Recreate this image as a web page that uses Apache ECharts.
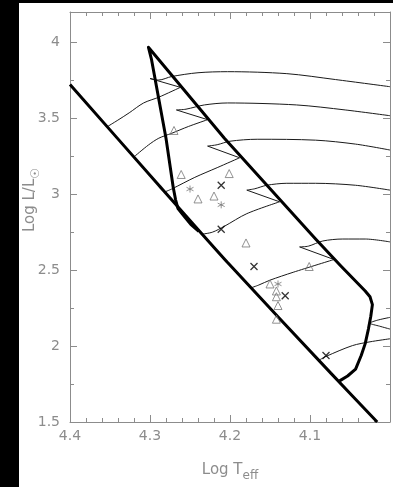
<!DOCTYPE html>
<html><head><meta charset="utf-8">
<script src="https://cdn.jsdelivr.net/npm/echarts@6.0.0/dist/echarts.min.js"></script>
<style>
html,body{margin:0;padding:0;background:#fff;overflow:hidden;}
#c{position:absolute;left:0;top:0;width:393px;height:487px;}
#bl{position:absolute;left:0;top:0;width:19px;height:487px;background:#000;}
#bt{position:absolute;left:0;top:0;width:393px;height:3px;background:#000;}
</style></head><body>
<div id="c"></div><div id="bl"></div><div id="bt"></div>
<script>
// ---- axis ranges / ticks ----
const xRange = [4.0, 4.4];
const yRange = [1.5, 4.2];
const xMajor = 0.1, yMajor = 0.5, yMinor = 0.25;

// ---- thick lines ----
const zams = [[4.400,3.723],[4.289,3.059],[4.203,2.550],[4.074,1.822],[4.016,1.500]];
const boundary = [[4.239,2.756],[4.249,2.802],[4.257,2.853],[4.265,2.905],[4.268,2.963],[4.271,3.046],
  [4.280,3.369],[4.298,3.884],[4.302,3.968],[4.207,3.369],[4.093,2.705],[4.062,2.531],[4.031,2.363],
  [4.025,2.325],[4.022,2.273],[4.024,2.196],[4.027,2.112],[4.031,2.016],[4.036,1.938],[4.043,1.848],
  [4.053,1.803],[4.063,1.771]];

// ---- evolutionary tracks (thin) ----
const track1 = [[4.353,3.446],[4.341,3.485],[4.326,3.536],[4.308,3.601],[4.289,3.639],[4.262,3.704],
  [4.300,3.762],[4.289,3.752],[4.273,3.775],[4.240,3.800],[4.203,3.807],[4.129,3.794],[4.068,3.755],[4.000,3.708]];
const track2 = [[4.320,3.246],[4.302,3.324],[4.289,3.369],[4.273,3.401],[4.252,3.446],[4.228,3.491],
  [4.267,3.555],[4.255,3.560],[4.232,3.588],[4.203,3.601],[4.117,3.588],[4.056,3.555],[4.000,3.517]];
const track3 = [[4.282,3.014],[4.273,3.034],[4.244,3.111],[4.216,3.175],[4.188,3.240],
  [4.228,3.317],[4.216,3.326],[4.200,3.349],[4.166,3.362],[4.093,3.356],[4.043,3.330],[4.000,3.291]];
const track4 = [[4.235,2.737],[4.222,2.750],[4.207,2.789],[4.179,2.872],[4.138,2.950],
  [4.179,3.027],[4.169,3.036],[4.154,3.059],[4.129,3.072],[4.093,3.072],[4.043,3.059],[4.000,3.027]];
const track5 = [[4.174,2.383],[4.164,2.402],[4.150,2.434],[4.121,2.486],[4.070,2.570],
  [4.113,2.653],[4.102,2.658],[4.084,2.692],[4.059,2.705],[4.031,2.705],[4.000,2.686]];
const track6 = [[4.000,2.112],[4.013,2.131],[4.025,2.151],[4.016,2.170],[4.000,2.189]];
const track7 = [[4.089,1.906],[4.080,1.932],[4.047,2.003],[4.025,2.028],[4.000,2.048]];
const tracks = [track1, track2, track3, track4, track5, track6, track7];
// index of the main-sequence end point of each track (hook start), -1 = none
const msEnd = [5, 5, 4, 4, 4, -1, -1];

// ---- observed stars ----
const triangles = [[4.270,3.420],[4.261,3.130],[4.201,3.136],[4.240,2.969],[4.220,2.988],[4.180,2.679],
  [4.150,2.409],[4.101,2.524],[4.142,2.363],[4.142,2.325],[4.140,2.267],[4.142,2.177]];
const asterisks = [[4.250,3.034],[4.211,2.930],[4.140,2.409]];
const crosses = [[4.211,3.059],[4.211,2.769],[4.170,2.524],[4.131,2.331],[4.080,1.938]];

const AX = '#8c8c8c';
const FONT = 'DejaVu Sans';
const isMult = (v, s) => Math.abs(v / s - Math.round(v / s)) < 1e-6;

function xAx(pos, labels) {
  return {
    type: 'value', position: pos, inverse: true, min: xRange[0], max: xRange[1], interval: xMajor,
    axisLine: { show: true, onZero: false, lineStyle: { color: AX, width: 1 } },
    axisTick: { show: true, inside: true, length: 7, lineStyle: { color: AX } },
    minorTick: { show: true, splitNumber: 5, length: 4, lineStyle: { color: AX } },
    splitLine: { show: false }, minorSplitLine: { show: false },
    axisLabel: labels ? { show: true, color: AX, fontSize: 14, fontFamily: FONT, margin: 7,
      formatter: v => (Math.abs(v - 4.0) < 1e-6 ? '' : v.toFixed(1)) } : { show: false }
  };
}
function yAx(pos, interval, len, labels, line) {
  return {
    type: 'value', position: pos, min: yRange[0], max: yRange[1], interval: interval,
    axisLine: { show: line, onZero: false, lineStyle: { color: AX, width: 1 } },
    axisTick: { show: true, inside: true, length: len, lineStyle: { color: AX } },
    splitLine: { show: false },
    axisLabel: labels ? { show: true, color: AX, fontSize: 14, fontFamily: FONT, margin: 10,
      formatter: v => (isMult(v, yMajor) && v <= 4.0001 ? String(+v.toFixed(1)) : '') } : { show: false }
  };
}

const xb = xAx('bottom', true);
xb.name = 'Log T{s|eff}';
xb.nameLocation = 'middle';
xb.nameGap = 36;
xb.nameTextStyle = { color: AX, fontSize: 15, fontFamily: FONT,
  rich: { s: { color: AX, fontSize: 12, fontFamily: FONT, padding: [12, 0, 0, 0] } } };

const series = [];
const thin = { color: '#1a1a1a', width: 1 };
function addLine(data, smooth) {
  series.push({ type: 'line', data: data, showSymbol: false, symbol: 'none', silent: true,
    smooth: smooth, lineStyle: thin, z: 2 });
}
tracks.forEach((t, i) => {
  const k = msEnd[i];
  if (k < 0) { addLine(t, 0.3); return; }
  addLine(t.slice(0, k + 1), 0.3);      // main sequence
  addLine(t.slice(k, k + 2), false);    // hook
  addLine(t.slice(k + 1), 0.3);         // crossing
});
series.push({ type: 'line', data: zams, showSymbol: false, symbol: 'none', smooth: 0.2, lineStyle: { color: '#000', width: 3 }, z: 3 });
series.push({ type: 'line', data: boundary, showSymbol: false, symbol: 'none', lineStyle: { color: '#000', width: 3, join: 'round' }, z: 3 });
series.push({ type: 'scatter', data: triangles, symbol: 'triangle', symbolSize: 8,
  itemStyle: { color: 'rgba(0,0,0,0)', borderColor: '#777', borderWidth: 1 }, z: 4 });
series.push({ type: 'scatter', data: asterisks, symbol: 'path://M5,0L5,10M0.7,2.5L9.3,7.5M0.7,7.5L9.3,2.5', symbolSize: 7,
  itemStyle: { color: 'rgba(0,0,0,0)', borderColor: '#777', borderWidth: 1 }, z: 4 });
series.push({ type: 'scatter', data: crosses, symbol: 'path://M0,0L10,10M10,0L0,10', symbolSize: 7,
  itemStyle: { color: 'rgba(0,0,0,0)', borderColor: '#000', borderWidth: 1.3 }, z: 5 });

const chart = echarts.init(document.getElementById('c'), null, { renderer: 'canvas' });
chart.setOption({
  animation: false,
  backgroundColor: '#fff',
  grid: { left: 70, top: 12, right: -2, bottom: 57, containLabel: false },
  xAxis: [xb, xAx('top', false)],
  yAxis: [yAx('left', yMajor, 7, true, true), yAx('right', yMajor, 7, false, true),
          yAx('left', yMinor, 4, false, false), yAx('right', yMinor, 4, false, false)],
  series: series,
  graphic: [{
    type: 'text', x: 30, y: 200, rotation: Math.PI / 2,
    style: { text: 'Log L/L{s|☉}', fill: AX, font: '15px "DejaVu Sans"', align: 'center', verticalAlign: 'middle',
      rich: { s: { fill: AX, fontSize: 12, fontFamily: FONT, padding: [12, 0, 0, 0] } } }
  }]
});
</script></body></html>
